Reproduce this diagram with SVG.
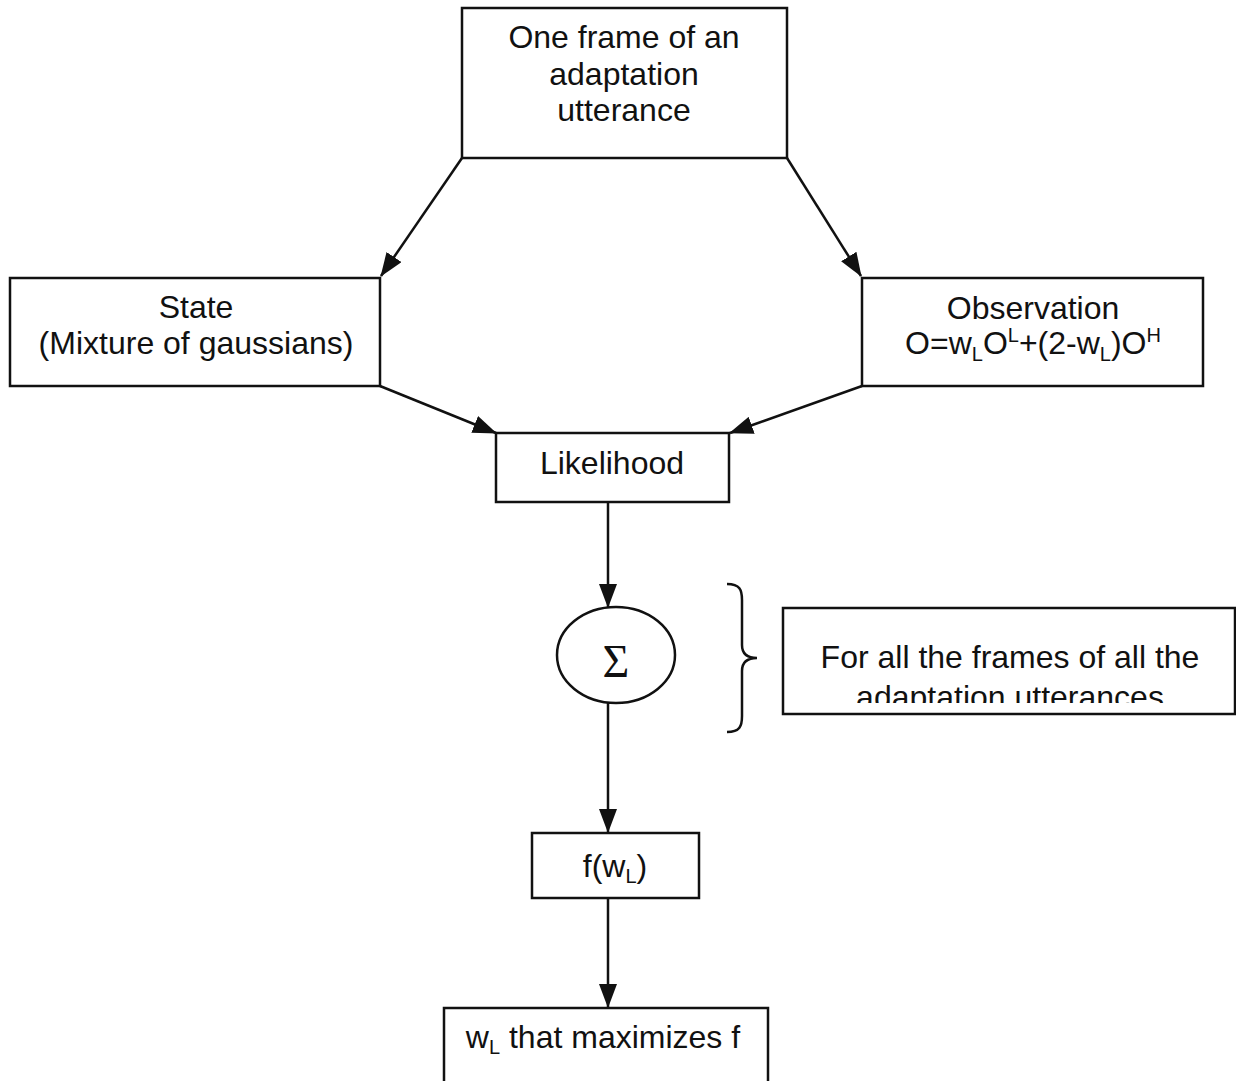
<svg xmlns="http://www.w3.org/2000/svg" width="1236" height="1081" viewBox="0 0 1236 1081">
  <style>
    .box { fill: #ffffff; stroke: #111111; stroke-width: 2.5; }
    .lbl { font-family: "Liberation Sans", Arial, sans-serif; font-size: 32px; fill: #111111; text-anchor: middle; }
    .sub { font-size: 20px; }
    .edge { fill: none; stroke: #111111; stroke-width: 2.5; }
  </style>
  <defs>
    <marker id="arrow" viewBox="0 0 24 18" refX="23" refY="9" markerWidth="24" markerHeight="18" markerUnits="userSpaceOnUse" orient="auto">
      <path d="M0,0 L24,9 L0,18 Z" fill="#111111"/>
    </marker>
    <clipPath id="noteClip">
      <rect x="784" y="609" width="450" height="94"/>
    </clipPath>
  </defs>
  <rect width="1236" height="1081" fill="#ffffff"/>

  <!-- connectors -->
  <g id="connectors">
    <line class="edge" x1="462" y1="158" x2="381" y2="276" marker-end="url(#arrow)"/>
    <line class="edge" x1="787" y1="158" x2="861" y2="276" marker-end="url(#arrow)"/>
    <line class="edge" x1="380" y1="386" x2="496" y2="433" marker-end="url(#arrow)"/>
    <line class="edge" x1="862" y1="386" x2="730" y2="433" marker-end="url(#arrow)"/>
    <line class="edge" x1="608" y1="502" x2="608" y2="607" marker-end="url(#arrow)"/>
    <line class="edge" x1="608" y1="703" x2="608" y2="832" marker-end="url(#arrow)"/>
    <line class="edge" x1="608" y1="898" x2="608" y2="1007" marker-end="url(#arrow)"/>
  </g>

  <!-- source frame -->
  <g id="node-frame">
    <rect class="box" x="462" y="8" width="325" height="150"/>
    <text class="lbl" x="624" y="48">One frame of an</text>
    <text class="lbl" x="624" y="85">adaptation</text>
    <text class="lbl" x="624" y="121">utterance</text>
  </g>

  <!-- state -->
  <g id="node-state">
    <rect class="box" x="10" y="278" width="370" height="108"/>
    <text class="lbl" x="196" y="318">State</text>
    <text class="lbl" x="196" y="354">(Mixture of gaussians)</text>
  </g>

  <!-- observation -->
  <g id="node-observation">
    <rect class="box" x="862" y="278" width="341" height="108"/>
    <text class="lbl" x="1033" y="319">Observation</text>
    <text class="lbl" x="1033" y="354">O=w<tspan class="sub" dy="7">L</tspan><tspan dy="-7">O</tspan><tspan class="sub" dy="-12">L</tspan><tspan dy="12">+(2-w</tspan><tspan class="sub" dy="7">L</tspan><tspan dy="-7">)O</tspan><tspan class="sub" dy="-12">H</tspan></text>
  </g>

  <!-- likelihood -->
  <g id="node-likelihood">
    <rect class="box" x="496" y="433" width="233" height="69"/>
    <text class="lbl" x="612" y="474">Likelihood</text>
  </g>

  <!-- summation -->
  <g id="node-sum">
    <ellipse class="box" cx="616" cy="655" rx="59" ry="48"/>
    <text x="616" y="677" font-family="'Liberation Serif', 'Times New Roman', serif" font-size="46" fill="#111111" text-anchor="middle">Σ</text>
  </g>

  <!-- brace -->
  <g id="brace">
    <path class="edge" d="M727,584 C740,584 742,590 742,600 L742,645 C742,655 748,658 757,658 C748,658 742,661 742,671 L742,716 C742,726 740,732 727,732"/>
  </g>

  <!-- note -->
  <g id="node-note">
    <rect class="box" x="783" y="608" width="452" height="106"/>
    <text class="lbl" x="1010" y="668">For all the frames of all the</text>
    <text class="lbl" x="1010" y="708" clip-path="url(#noteClip)">adaptation utterances</text>
  </g>

  <!-- objective -->
  <g id="node-f">
    <rect class="box" x="532" y="833" width="167" height="65"/>
    <text class="lbl" x="615" y="877">f(w<tspan class="sub" dy="6">L</tspan><tspan dy="-6">)</tspan></text>
  </g>

  <!-- result -->
  <g id="node-result">
    <rect class="box" x="444" y="1008" width="324" height="120"/>
    <text class="lbl" x="603" y="1048">w<tspan class="sub" dy="6">L</tspan><tspan dy="-6"> that maximizes f</tspan></text>
  </g>
</svg>
